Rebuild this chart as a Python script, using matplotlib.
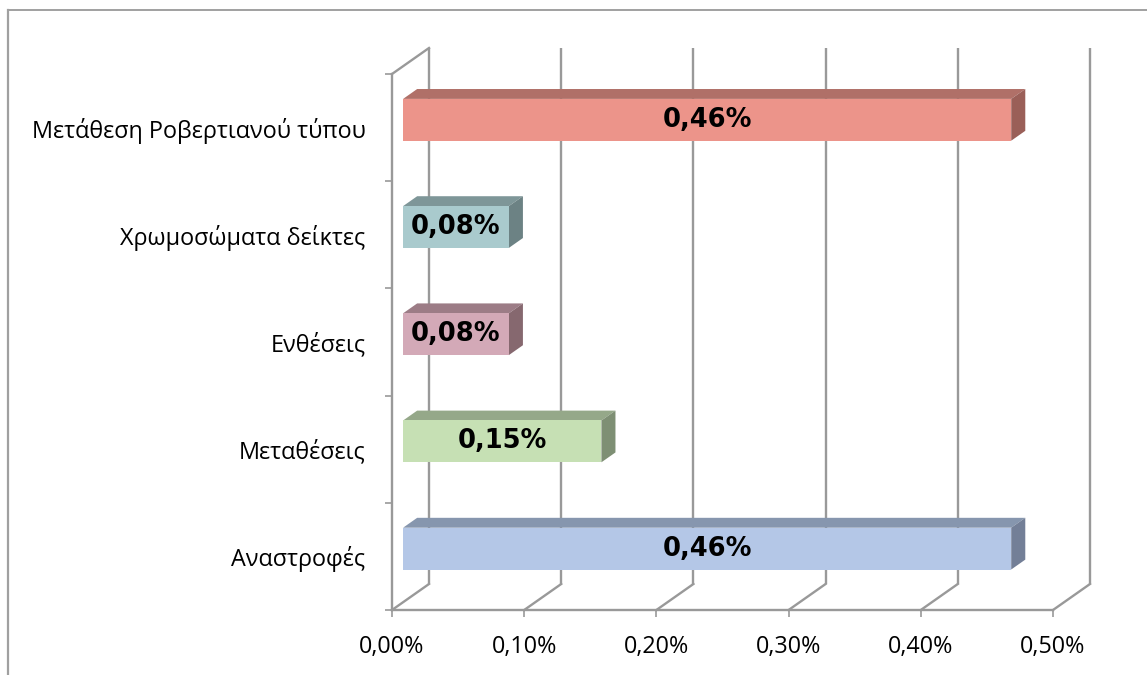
"""Horizontal 3D-style bar chart of chromosomal abnormality frequencies."""

import matplotlib

matplotlib.use("Agg")
import matplotlib.pyplot as plt
import numpy as np
from matplotlib.lines import Line2D
from matplotlib.patches import Polygon, Rectangle


CATEGORIES = [
    "Αναστροφές",
    "Μεταθέσεις",
    "Ενθέσεις",
    "Χρωμοσώματα δείκτες",
    "Μετάθεση Ροβερτιανού τύπου",
]
VALUES = [0.46, 0.15, 0.08, 0.08, 0.46]
X_TICKS = [0.0, 0.1, 0.2, 0.3, 0.4, 0.5]

# front, top, side shades per bar
FACE_COLORS = [
    ("#b4c7e7", "#8696ae", "#737f97"),
    ("#c6e0b4", "#95a889", "#7e8f74"),
    ("#d3a9b7", "#9c7c86", "#86686f"),
    ("#a9cacd", "#7e9698", "#6c8284"),
    ("#ec948a", "#b07068", "#9a5f58"),
]

GRID = "#999999"
W, H = 1147, 675
LABEL_FONT = ["Open Sans", "DejaVu Sans"]


def pct(v: float) -> str:
    return f"{v:.2f}".replace(".", ",") + "%"


def main() -> None:
    fig = plt.figure(figsize=(W / 100, H / 100), dpi=100)
    fig.patch.set_facecolor("white")

    # front plane of the plot: x 392..1053 px, y 610..74 px
    left, right, bottom, top = 392, 1053, 610, 74
    ax = fig.add_axes([left / W, (H - bottom) / H, (right - left) / W, (bottom - top) / H])
    xmax, ymax = 0.5, len(CATEGORIES)
    ax.set_xlim(0, xmax)
    ax.set_ylim(0, ymax)

    # depth of the 3D box, converted from pixels to data units
    DX = 37 * xmax / (right - left)
    DY = 26 * ymax / (bottom - top)
    d_front, d_back = 0.30, 0.68
    bar_h = 0.39

    # back wall gridlines and floor diagonals
    for t in X_TICKS:
        ax.plot([t + DX, t + DX], [DY, ymax + DY], color=GRID, lw=1.7,
                clip_on=False, zorder=1, solid_capstyle="butt")
        ax.plot([t, t + DX], [0, DY], color=GRID, lw=1.7, clip_on=False, zorder=1)
    ax.plot([0, DX], [ymax, ymax + DY], color=GRID, lw=1.7, clip_on=False, zorder=1)

    for i, (v, (c_front, c_top, c_side)) in enumerate(zip(VALUES, FACE_COLORS)):
        x0 = d_front * DX
        x1 = v + d_front * DX
        y0 = i + 0.5 - bar_h / 2 + d_front * DY
        y1 = y0 + bar_h
        ddx = (d_back - d_front) * DX
        ddy = (d_back - d_front) * DY

        ax.add_patch(Polygon([(x0, y1), (x1, y1), (x1 + ddx, y1 + ddy), (x0 + ddx, y1 + ddy)],
                             closed=True, facecolor=c_top, edgecolor="none", zorder=3, clip_on=False))
        ax.add_patch(Polygon([(x1, y0), (x1, y1), (x1 + ddx, y1 + ddy), (x1 + ddx, y0 + ddy)],
                             closed=True, facecolor=c_side, edgecolor="none", zorder=3, clip_on=False))
        ax.add_patch(Rectangle((x0, y0), v, bar_h, facecolor=c_front, edgecolor="none",
                               zorder=4, clip_on=False))
        ax.text(x0 + v / 2, (y0 + y1) / 2, pct(v), ha="center", va="center",
                fontsize=18.5, fontweight="heavy", family="DejaVu Sans", color="black", zorder=5)

    # axes lines and ticks
    for side in ["top", "right"]:
        ax.spines[side].set_visible(False)
    for side in ["left", "bottom"]:
        ax.spines[side].set_color(GRID)
        ax.spines[side].set_linewidth(1.7)
    ax.set_facecolor("none")

    ax.set_xticks(X_TICKS)
    ax.set_xticklabels([pct(t) for t in X_TICKS], family=LABEL_FONT, fontsize=16.8)
    ax.tick_params(axis="x", length=5, width=1.2, color=GRID, pad=13)

    ax.set_yticks(np.arange(ymax + 1))
    ax.set_yticklabels([])
    ax.set_yticks(np.arange(ymax) + 0.5, minor=True)
    ax.set_yticklabels(CATEGORIES, minor=True, family=LABEL_FONT, fontsize=16.8)
    ax.tick_params(axis="y", which="major", length=5, width=1.2, color=GRID)
    ax.tick_params(axis="y", which="minor", length=0, pad=19)

    # chart area border
    fig.add_artist(Line2D([8 / W, 1], [1 - 10 / H, 1 - 10 / H], color="#a0a0a0", lw=1.4))
    fig.add_artist(Line2D([8 / W, 8 / W], [0, 1 - 10 / H], color="#a0a0a0", lw=1.6))

    fig.savefig("out.png", dpi=100)
    plt.close(fig)


if __name__ == "__main__":
    main()
